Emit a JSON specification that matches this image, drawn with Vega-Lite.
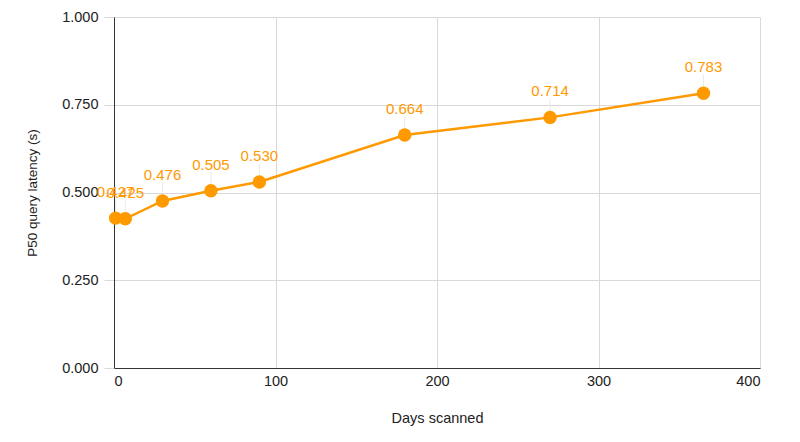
{
  "$schema": "https://vega.github.io/schema/vega-lite/v6.json",
  "autosize": "none",
  "padding": {"left": 114, "top": 17, "right": 40, "bottom": 74},
  "width": 646,
  "height": 351,
  "background": "white",
  "config": {
    "view": {"stroke": null},
    "font": "Liberation Sans",
    "axis": {
      "labelFont": "Liberation Sans",
      "titleFont": "Liberation Sans",
      "labelFontSize": 14.5,
      "titleFontSize": 14,
      "labelColor": "#222222",
      "titleColor": "#222222",
      "titleFontWeight": "normal",
      "gridColor": "#d9d9d9",
      "gridWidth": 1
    }
  },
  "data": {
    "values": [
      {"days": 1, "latency": 0.427},
      {"days": 7, "latency": 0.425},
      {"days": 30, "latency": 0.476},
      {"days": 60, "latency": 0.505},
      {"days": 90, "latency": 0.530},
      {"days": 180, "latency": 0.664},
      {"days": 270, "latency": 0.714},
      {"days": 365, "latency": 0.783}
    ]
  },
  "encoding": {
    "x": {
      "field": "days",
      "type": "quantitative",
      "scale": {"domain": [0, 400], "nice": false},
      "axis": {
        "title": "Days scanned",
        "titleFontSize": 14.5,
        "values": [0, 100, 200, 300, 400],
        "ticks": false,
        "labelPadding": 6,
        "domainColor": "#333333",
        "titlePadding": 24
      }
    },
    "y": {
      "field": "latency",
      "type": "quantitative",
      "scale": {"domain": [0, 1], "nice": false},
      "axis": {
        "title": "P50 query latency (s)",
        "titleFontSize": 13.5,
        "values": [0, 0.25, 0.5, 0.75, 1],
        "format": ".3f",
        "tickColor": "#d9d9d9",
        "tickSize": 10,
        "labelPadding": 6,
        "domainColor": "#333333",
        "titlePadding": 22
      }
    }
  },
  "layer": [
    {
      "mark": {"type": "tick", "orient": "vertical", "size": 12, "thickness": 1, "yOffset": -12.5, "color": "#e3e3e3"}
    },
    {
      "mark": {"type": "line", "color": "#FF9900", "strokeWidth": 2.5}
    },
    {
      "mark": {"type": "point", "filled": true, "opacity": 1, "size": 180, "color": "#FF9900"}
    },
    {
      "mark": {"type": "text", "dy": -26, "fontSize": 15, "color": "#FF9900", "font": "Liberation Sans"},
      "encoding": {
        "text": {"field": "latency", "type": "quantitative", "format": ".3f"}
      }
    }
  ]
}
